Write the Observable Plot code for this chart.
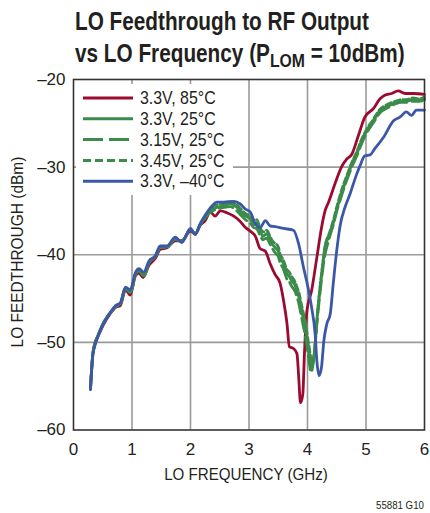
<!DOCTYPE html>
<html>
<head>
<meta charset="utf-8">
<script src="https://cdn.jsdelivr.net/npm/d3@7"></script>
<script src="https://cdn.jsdelivr.net/npm/@observablehq/plot@0.6"></script>
<style>
  body { margin: 0; background: #fff; }
  #wrap { position: relative; width: 430px; height: 513px; background: #fff; overflow: hidden;
          font-family: 'Liberation Sans', Arial, sans-serif; color: #231f20; }
  .t { position: absolute; white-space: nowrap; }
  .title { font-weight: bold; font-size: 25px; line-height: 25px; left: 75px; transform-origin: 0 0; transform: scaleX(0.83); }
</style>
</head>
<body>
<div id="wrap">
  <div class="t title" style="top:9px">LO Feedthrough to RF Output</div>
  <div class="t title" style="top:41px">vs LO Frequency (P<sub style="font-size:19px;vertical-align:-5px;line-height:0">LOM</sub> = 10dBm)</div>
  <div id="chart" style="position:absolute;left:0;top:70px"></div>
  <div id="legend" style="position:absolute;left:76px;top:84px"></div>
  <div class="t" style="left:9px;top:252px;font-size:17px;line-height:17px;transform-origin:0 0;transform:rotate(-90deg) scaleX(0.91) translate(-50%,0)">LO FEEDTHROUGH (dBm)</div>
  <div class="t" style="left:246px;top:466px;font-size:17px;line-height:18px;transform:translateX(-50%) scaleX(0.89)">LO FREQUENCY (GHz)</div>
  <div class="t" style="left:376px;top:499px;font-size:11px;line-height:12px;transform-origin:0 0;transform:scaleX(0.88)">55881 G10</div>
</div>
<script>
// ---- data (frequency GHz, LO feedthrough dBm) ----
const xTicks = [0, 1, 2, 3, 4, 5, 6];
const yTicks = [-60, -50, -40, -30, -20];
const seriesNames = ["3.3V, 85°C", "3.3V, 25°C", "3.15V, 25°C", "3.45V, 25°C", "3.3V, –40°C"];

const v33_85C = [[0.29,-55.2],[0.33,-51.3],[0.37,-50.0],[0.42,-49.3],[0.51,-48.0],[0.63,-46.7],[0.72,-46.0],[0.80,-45.8],[0.89,-44.0],[0.97,-44.6],[1.06,-42.4],[1.12,-42.1],[1.19,-42.6],[1.29,-41.2],[1.40,-40.4],[1.48,-39.4],[1.60,-39.2],[1.74,-38.4],[1.85,-38.4],[2.00,-37.3],[2.08,-37.6],[2.17,-36.6],[2.25,-36.1],[2.34,-35.1],[2.42,-35.6],[2.51,-35.0],[2.62,-35.2],[2.74,-35.6],[2.85,-36.2],[2.94,-36.9],[3.02,-37.3],[3.11,-37.9],[3.19,-39.3],[3.28,-39.6],[3.36,-41.0],[3.45,-42.3],[3.53,-43.2],[3.59,-45.2],[3.65,-47.9],[3.69,-50.5],[3.76,-50.7],[3.82,-51.3],[3.85,-54.0],[3.88,-56.9],[3.92,-55.9],[3.95,-50.9],[3.99,-46.4],[4.07,-44.1],[4.16,-40.3],[4.24,-36.9],[4.30,-35.0],[4.36,-34.0],[4.47,-31.9],[4.58,-30.0],[4.67,-29.1],[4.76,-28.5],[4.87,-26.4],[4.98,-24.3],[5.13,-23.3],[5.24,-22.2],[5.32,-21.8],[5.44,-21.6],[5.55,-21.3],[5.67,-21.6],[5.81,-21.6],[6.00,-21.7]];

const v33_25C = [[0.29,-55.3],[0.33,-51.4],[0.37,-50.1],[0.42,-49.2],[0.51,-47.8],[0.63,-46.6],[0.72,-45.9],[0.80,-45.6],[0.89,-43.8],[0.97,-44.3],[1.06,-42.2],[1.12,-41.8],[1.20,-42.4],[1.29,-40.9],[1.40,-40.2],[1.48,-39.2],[1.60,-39.1],[1.74,-38.2],[1.85,-38.5],[2.00,-37.1],[2.08,-37.6],[2.17,-36.5],[2.25,-35.7],[2.37,-34.8],[2.45,-34.6],[2.57,-34.4],[2.68,-34.2],[2.78,-34.5],[2.85,-35.0],[2.94,-35.6],[3.02,-35.9],[3.08,-36.6],[3.13,-36.4],[3.19,-37.3],[3.24,-37.9],[3.30,-37.6],[3.36,-38.3],[3.41,-38.9],[3.45,-39.2],[3.50,-39.6],[3.53,-40.4],[3.58,-40.9],[3.65,-42.2],[3.69,-42.5],[3.73,-43.0],[3.78,-43.4],[3.82,-44.2],[3.86,-45.0],[3.90,-46.4],[3.96,-48.3],[4.02,-50.9],[4.07,-52.8],[4.11,-51.7],[4.17,-46.7],[4.23,-42.9],[4.30,-39.1],[4.36,-38.0],[4.44,-36.4],[4.51,-34.6],[4.58,-33.0],[4.67,-31.3],[4.75,-29.8],[4.85,-28.4],[4.92,-27.1],[5.01,-25.9],[5.12,-24.8],[5.24,-23.6],[5.35,-23.1],[5.50,-22.7],[5.60,-22.5],[5.69,-22.5],[5.80,-22.3],[5.90,-22.4],[6.00,-22.2]];

const v315_25C = [[0.29,-55.3],[0.33,-51.4],[0.37,-50.1],[0.42,-49.2],[0.51,-47.8],[0.63,-46.6],[0.72,-45.9],[0.80,-45.6],[0.89,-43.8],[0.97,-44.3],[1.06,-42.2],[1.12,-41.8],[1.20,-42.4],[1.29,-40.9],[1.40,-40.2],[1.48,-39.2],[1.60,-39.1],[1.74,-38.2],[1.85,-38.5],[2.00,-37.1],[2.08,-37.6],[2.17,-36.5],[2.25,-35.8],[2.37,-35.0],[2.45,-34.8],[2.57,-34.6],[2.68,-34.5],[2.78,-34.9],[2.85,-35.4],[2.94,-36.0],[3.02,-36.4],[3.08,-36.9],[3.13,-37.0],[3.19,-37.8],[3.24,-38.3],[3.30,-38.1],[3.36,-38.8],[3.41,-39.4],[3.45,-39.8],[3.50,-40.2],[3.53,-40.9],[3.58,-41.5],[3.65,-42.8],[3.69,-43.1],[3.73,-43.6],[3.78,-44.1],[3.82,-44.8],[3.86,-45.8],[3.90,-47.2],[3.96,-49.2],[4.02,-51.8],[4.06,-53.4],[4.10,-52.3],[4.16,-47.9],[4.22,-44.0],[4.29,-40.3],[4.36,-38.4],[4.44,-36.6],[4.51,-34.8],[4.58,-33.3],[4.67,-31.5],[4.75,-30.1],[4.85,-28.6],[4.92,-27.4],[5.01,-26.1],[5.12,-25.0],[5.24,-23.8],[5.35,-23.3],[5.50,-22.8],[5.60,-22.6],[5.69,-22.6],[5.80,-22.5],[5.90,-22.5],[6.00,-22.3]];

const v345_25C = [[0.29,-55.3],[0.33,-51.4],[0.37,-50.1],[0.42,-49.2],[0.51,-47.8],[0.63,-46.6],[0.72,-45.9],[0.80,-45.6],[0.89,-43.8],[0.97,-44.3],[1.06,-42.2],[1.12,-41.8],[1.20,-42.4],[1.29,-40.9],[1.40,-40.2],[1.48,-39.2],[1.60,-39.1],[1.74,-38.2],[1.85,-38.5],[2.00,-37.1],[2.08,-37.6],[2.17,-36.5],[2.25,-35.6],[2.37,-34.6],[2.45,-34.3],[2.57,-34.2],[2.68,-34.0],[2.78,-34.2],[2.85,-34.7],[2.94,-35.3],[3.02,-35.6],[3.08,-36.2],[3.13,-36.0],[3.19,-36.9],[3.24,-37.4],[3.30,-37.2],[3.36,-37.9],[3.41,-38.5],[3.45,-38.7],[3.50,-39.1],[3.53,-39.9],[3.58,-40.5],[3.65,-41.7],[3.69,-42.0],[3.73,-42.5],[3.78,-43.0],[3.82,-43.7],[3.86,-44.5],[3.90,-45.8],[3.96,-47.6],[4.02,-50.2],[4.08,-52.2],[4.12,-51.0],[4.18,-46.0],[4.24,-42.2],[4.31,-38.7],[4.37,-37.6],[4.44,-36.1],[4.51,-34.3],[4.58,-32.7],[4.67,-31.0],[4.75,-29.6],[4.85,-28.1],[4.92,-26.9],[5.01,-25.7],[5.12,-24.6],[5.24,-23.4],[5.35,-22.9],[5.50,-22.5],[5.60,-22.3],[5.69,-22.3],[5.80,-22.1],[5.90,-22.2],[6.00,-22.0]];

const v33_m40C = [[0.29,-55.4],[0.33,-51.5],[0.37,-50.3],[0.42,-49.3],[0.51,-47.9],[0.63,-46.6],[0.72,-45.8],[0.80,-45.5],[0.89,-43.7],[0.97,-44.0],[1.06,-42.0],[1.12,-41.6],[1.20,-42.0],[1.29,-40.7],[1.40,-40.1],[1.48,-39.0],[1.60,-39.0],[1.74,-38.0],[1.85,-38.6],[2.00,-37.0],[2.08,-37.7],[2.17,-36.4],[2.25,-35.5],[2.37,-34.4],[2.45,-34.0],[2.57,-34.0],[2.74,-33.9],[2.85,-34.2],[2.94,-34.8],[3.02,-35.1],[3.11,-36.5],[3.19,-36.9],[3.28,-36.1],[3.36,-36.7],[3.45,-36.8],[3.59,-37.0],[3.76,-37.2],[3.85,-38.8],[3.93,-41.4],[4.02,-44.1],[4.07,-46.0],[4.13,-49.0],[4.16,-52.1],[4.20,-53.8],[4.24,-52.8],[4.28,-49.8],[4.33,-47.9],[4.39,-46.7],[4.44,-43.3],[4.50,-39.5],[4.56,-36.6],[4.64,-34.6],[4.73,-33.0],[4.83,-31.0],[4.90,-29.8],[4.98,-28.7],[5.07,-28.6],[5.15,-27.9],[5.30,-26.6],[5.47,-24.7],[5.58,-24.3],[5.69,-23.7],[5.78,-24.1],[5.86,-23.5],[6.00,-23.5]];

const RED = "#9c0a30", GREEN = "#3b8c4b", BLUE = "#3b57a8";
const styles = [
  {data: v33_85C, stroke: RED, dash: null},
  {data: v33_25C, stroke: GREEN, dash: null},
  {data: v315_25C, stroke: GREEN, dash: "14,5"},
  {data: v345_25C, stroke: GREEN, dash: "6,3"},
  {data: v33_m40C, stroke: BLUE, dash: null}
];

const fmt = d => d < 0 ? "\u2013" + Math.abs(d) : String(d);
const FONT = "'Liberation Sans', Arial, sans-serif";

const chart = Plot.plot({
  width: 430,
  height: 443,
  marginLeft: 73,
  marginRight: 6,
  marginTop: 9,
  marginBottom: 83.5,
  style: {fontFamily: FONT, fontSize: "17px", color: "#231f20", background: "transparent"},
  x: {domain: [0, 6]},
  y: {domain: [-60, -20]},
  marks: [
    Plot.gridX(xTicks.slice(1, -1), {stroke: "#9a9a9a", strokeOpacity: 1, strokeWidth: 1.6}),
    Plot.gridY(yTicks.slice(1, -1), {stroke: "#9a9a9a", strokeOpacity: 1, strokeWidth: 1.6}),
    ...styles.map(s => Plot.line(s.data, {
      x: d => d[0], y: d => d[1], stroke: s.stroke, strokeWidth: 2.8,
      strokeDasharray: s.dash, curve: "monotone-x", strokeLinejoin: "round"
    })),
    Plot.frame({stroke: "#333", strokeWidth: 1.6}),
    Plot.axisX(xTicks, {tickSize: 0, tickPadding: 13, fontSize: 17, label: null}),
    Plot.axisY(yTicks, {tickSize: 0, tickPadding: 8, fontSize: 17, label: null, tickFormat: fmt})
  ]
});
document.getElementById("chart").appendChild(chart);

// ---- legend (inside plot area, white box) ----
const ns = "http://www.w3.org/2000/svg";
const lg = document.createElementNS(ns, "svg");
lg.setAttribute("width", 157);
lg.setAttribute("height", 111);
lg.style.background = "#fff";
lg.style.display = "block";
seriesNames.forEach((name, i) => {
  const y = 14 + i * 20.8;
  const ln = document.createElementNS(ns, "line");
  ln.setAttribute("x1", 7); ln.setAttribute("x2", 57);
  ln.setAttribute("y1", y); ln.setAttribute("y2", y);
  ln.setAttribute("stroke", styles[i].stroke);
  ln.setAttribute("stroke-width", 3);
  if (styles[i].dash) ln.setAttribute("stroke-dasharray", i === 2 ? "20,6" : "8,4");
  lg.appendChild(ln);
  const tx = document.createElementNS(ns, "text");
  tx.setAttribute("transform", `translate(64,${y + 6.2}) scale(0.91,1)`);
  tx.setAttribute("font-family", FONT);
  tx.setAttribute("font-size", 17.5);
  tx.setAttribute("fill", "#231f20");
  tx.textContent = name;
  lg.appendChild(tx);
});
document.getElementById("legend").appendChild(lg);
</script>
</body>
</html>
